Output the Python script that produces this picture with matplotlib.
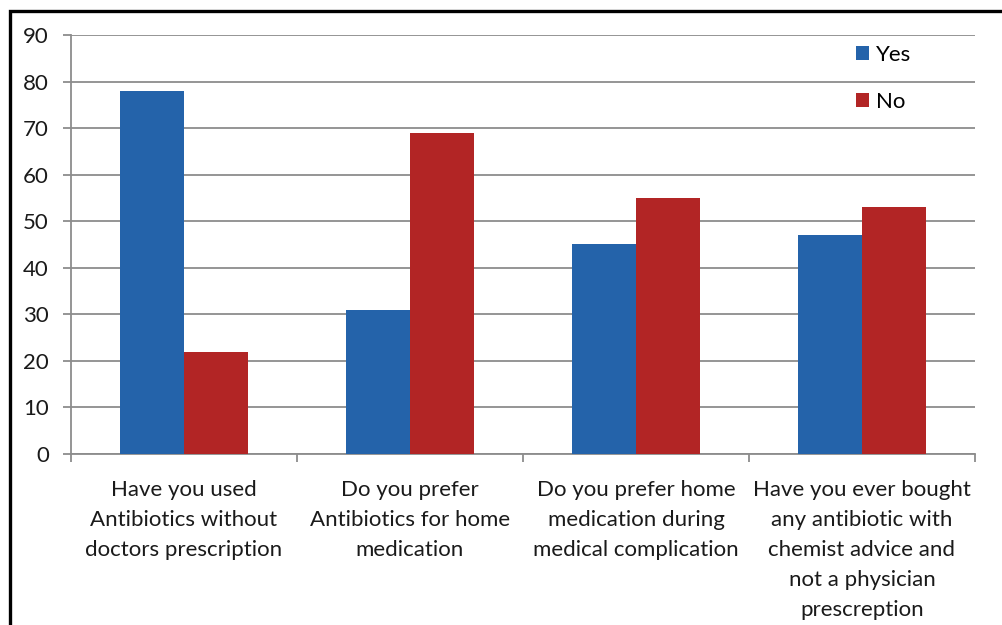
import matplotlib
matplotlib.use("Agg")
import matplotlib.pyplot as plt
from matplotlib.patches import Rectangle
import numpy as np

# Survey responses (%)
questions = [
    "Have you used\nAntibiotics without\ndoctors prescription",
    "Do you prefer\nAntibiotics for home\nmedication",
    "Do you prefer home\nmedication during\nmedical complication",
    "Have you ever bought\nany antibiotic with\nchemist advice and\nnot a physician\nprescreption",
]
yes_pct = [78, 31, 45, 47]
no_pct = [22, 69, 55, 53]

blue = "#2463AA"
red = "#B22525"
grid_gray = "#8C8C8C"

plt.rcParams["font.family"] = ["Lato", "DejaVu Sans"]

fig = plt.figure(figsize=(10.03, 6.25), dpi=100)
ax = fig.add_axes([71 / 1003, 1 - 454 / 625, (975 - 71) / 1003, (454 - 35) / 625])

x = np.arange(len(questions)) + 0.5
w = 0.283
ax.bar(x - w / 2, yes_pct, w, color=blue, label="Yes", zorder=3)
ax.bar(x + w / 2, no_pct, w, color=red, label="No", zorder=3)

ax.set_xlim(0, len(questions))
ax.set_ylim(0, 90)
ax.set_yticks(np.arange(0, 91, 10))
ax.yaxis.grid(True, color=grid_gray, linewidth=1.3, zorder=0)
ax.set_axisbelow(True)

ax.set_xticks(x)
ax.set_xticklabels(questions, fontsize=16, color="#1a1a1a", linespacing=1.62)
ax.set_xticks(np.arange(0, len(questions) + 1), minor=True)
ax.tick_params(axis="x", which="major", length=0, pad=19)
ax.tick_params(axis="x", which="minor", length=6, width=1.3, color=grid_gray, direction="out")
ax.tick_params(axis="y", length=6, width=1.3, color=grid_gray, labelsize=16,
               labelcolor="#1a1a1a", pad=10)

for side in ("top", "right"):
    ax.spines[side].set_visible(False)
for side in ("left", "bottom"):
    ax.spines[side].set_color(grid_gray)
    ax.spines[side].set_linewidth(1.3)

ax.legend(loc="upper left", bbox_to_anchor=(856 / 1003, 1 - 45 / 625),
          bbox_transform=fig.transFigure, frameon=False, fontsize=16,
          handlelength=0.6, handleheight=0.6, handletextpad=0.3,
          labelspacing=1.2, borderpad=0, borderaxespad=0)

# outer frame
fig.patches.append(Rectangle((10 / 1003, -0.1), 1.2, 1 - 11 / 625 + 0.1,
                             transform=fig.transFigure, fill=False,
                             edgecolor="black", linewidth=2.4))

fig.savefig("out.png", dpi=100)
